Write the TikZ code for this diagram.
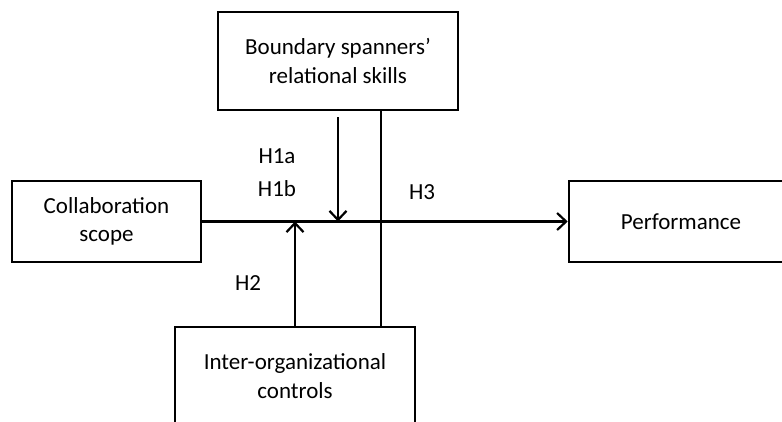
\documentclass[tikz,border=0pt]{standalone}
\usepackage{fontspec}
\setmainfont{Carlito}
\usetikzlibrary{arrows.meta}

\begin{document}
\begin{tikzpicture}[x=1pt, y=-1pt, line width=2.2pt, font=\fontsize{23}{28.5}\selectfont]
        \tikzstyle{construct}=[rectangle,draw=black,line width=2.6pt,fill=white,inner sep=0pt,align=center]
        \tikzstyle{hyp}=[inner sep=0pt,align=center]
        \tikzstyle{link}=[-{Straight Barb[length=9pt,width=17pt,line width=2.2pt]}]

        \useasboundingbox (0,0) rectangle (782,421);
        \clip (0,0) rectangle (782,421);

        \node[construct, minimum width=189pt, minimum height=81pt] (scope) at (106.5,221.5) {Collaboration\\scope};
        \node[construct, minimum width=224pt, minimum height=81pt] (perf) at (681,221.5) {Performance};
        \node[construct, minimum width=240pt, minimum height=98pt] (skills) at (338,61) {Boundary spanners’\\relational skills};
        \node[construct, minimum width=240pt, minimum height=98pt] (controls) at (295,376) {Inter-organizational\\controls};

        \coordinate (mod1) at (338,221.5);
        \coordinate (mod2) at (295,221.5);

        \draw[link] (scope) -- (perf);
        \draw[link] ([yshift=-6pt]skills.south) -- (mod1);
        \draw[link] (controls.north) -- (mod2);
        \draw ([xshift=43pt]skills.south) -- ([xshift=86pt]controls.north);

        \node[hyp, font=\fontsize{23}{33}\selectfont] (h1) at (277,172.5) {H1a\\H1b};
        \node[hyp] (h2) at (248,283) {H2};
        \node[hyp] (h3) at (422,192) {H3};
    \end{tikzpicture}
\end{document}
